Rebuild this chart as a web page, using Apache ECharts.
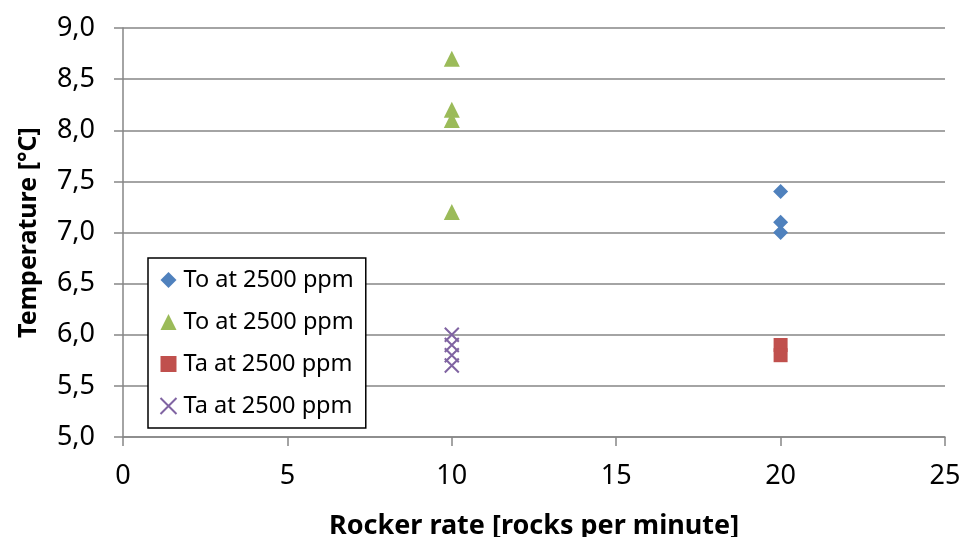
<!DOCTYPE html>
<html><head><meta charset="utf-8">
<script src="https://cdn.jsdelivr.net/npm/echarts@6/dist/echarts.min.js"></script>
<style>html,body{margin:0;padding:0;background:#fff}#c{width:963px;height:537px}</style>
</head><body><div id="c"></div>
<script>
const seriesNames = ['To at 2500 ppm', 'To at 2500 ppm', 'Ta at 2500 ppm', 'Ta at 2500 ppm'];
const toDiamond = [[20, 7.4], [20, 7.1], [20, 7.0]];
const toTriangle = [[10, 8.7], [10, 8.2], [10, 8.1], [10, 7.2]];
const taSquare = [[20, 5.9], [20, 5.8]];
const taCross = [[10, 6.0], [10, 5.9], [10, 5.8], [10, 5.7]];
const xTitle = 'Rocker rate [rocks per minute]';
const yTitle = 'Temperature [°C]';

const FONT = 'Noto Sans';
const crossPath = 'path://M0,0L10,10M10,0L0,10';
const chart = echarts.init(document.getElementById('c'));
// Distinct legend names needed; duplicates are shown by suffix zero-width spaces
const names = seriesNames.map((n, i) => n + '\u200b'.repeat(i));
chart.setOption({
  animation: false,
  grid: {left: 123, right: 18, top: 28, bottom: 100, containLabel: false, outerBoundsMode: 'none'},
  xAxis: {
    type: 'value', min: 0, max: 25, interval: 5,
    name: xTitle, nameLocation: 'middle', nameGap: 76,
    nameTextStyle: {fontFamily: FONT, fontSize: 27, fontWeight: 'bold', color: '#000'},
    axisLine: {show: true, lineStyle: {color: '#868686', width: 1.5}},
    axisTick: {show: true, length: 9, lineStyle: {color: '#868686', width: 1.5}},
    axisLabel: {fontFamily: FONT, fontSize: 27, color: '#000', margin: 26},
    splitLine: {show: false}
  },
  yAxis: {
    type: 'value', min: 5, max: 9, interval: 0.5,
    name: yTitle, nameLocation: 'middle', nameGap: 82, nameRotate: 90,
    nameTextStyle: {fontFamily: FONT, fontSize: 25, fontWeight: 'bold', color: '#000'},
    axisLine: {show: true, lineStyle: {color: '#868686', width: 1.5}},
    axisTick: {show: true, length: 9, lineStyle: {color: '#868686', width: 1.5}},
    axisLabel: {fontFamily: FONT, fontSize: 27, color: '#000', margin: 28,
      formatter: v => v.toFixed(1).replace('.', ',')},
    splitLine: {show: true, lineStyle: {color: '#868686', width: 1.5}}
  },
  legend: {
    orient: 'vertical', left: 148, top: 258,
    backgroundColor: '#fff', borderColor: '#000', borderWidth: 1.5,
    padding: [10, 12, 10, 10], itemGap: 18, itemWidth: 16, itemHeight: 16,
    textStyle: {fontFamily: FONT, fontSize: 23.5, color: '#000', lineHeight: 24, padding: [0, 0, 0, 2]},
    data: names
  },
  series: [
    {name: names[0], type: 'scatter', data: toDiamond, symbol: 'diamond', symbolSize: 15,
      itemStyle: {color: '#4F81BD', opacity: 1}},
    {name: names[1], type: 'scatter', data: toTriangle, symbol: 'triangle', symbolSize: 16,
      itemStyle: {color: '#9BBB59', opacity: 1}},
    {name: names[2], type: 'scatter', data: taSquare, symbol: 'rect', symbolSize: 14,
      itemStyle: {color: '#C0504D', opacity: 1}},
    {name: names[3], type: 'scatter', data: taCross, symbol: crossPath, symbolSize: 14,
      itemStyle: {color: 'none', borderColor: '#8064A2', borderWidth: 2, opacity: 1}}
  ]
});
</script></body></html>
